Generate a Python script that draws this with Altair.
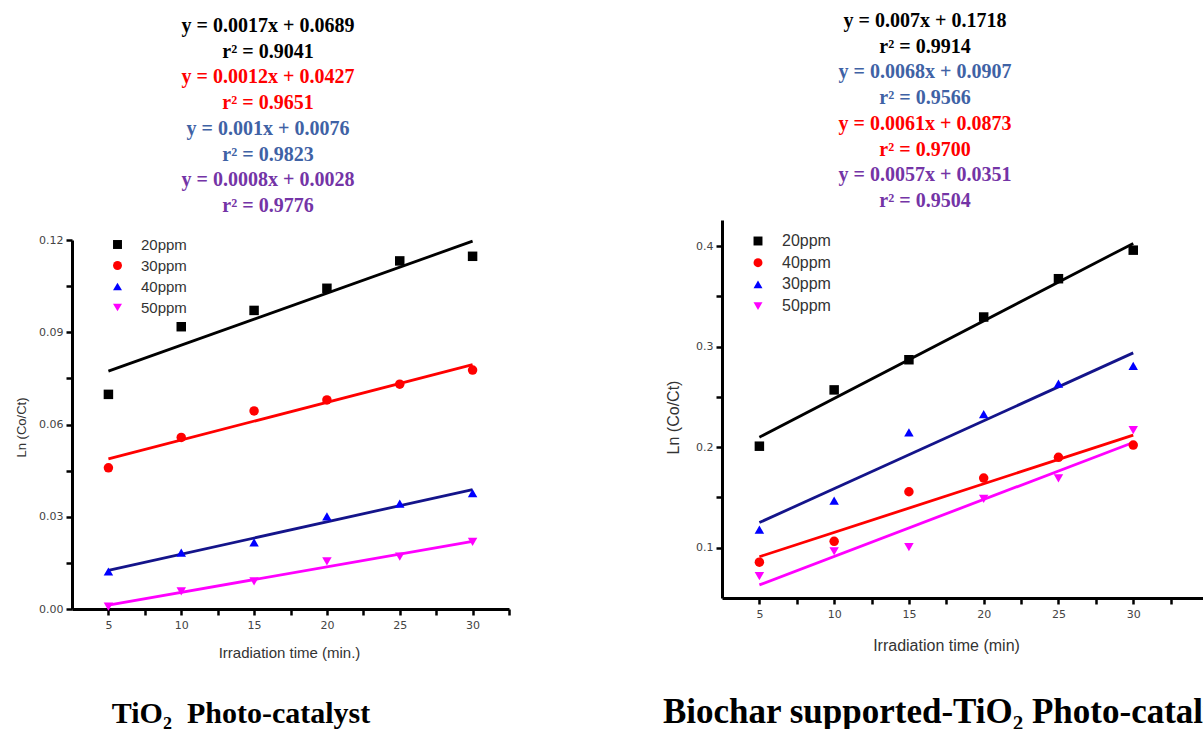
import altair as alt
import pandas as pd

# ---------------- data ----------------
times = [5, 10, 15, 20, 25, 30]

# TiO2 photo-catalyst panel
tio2_series = ["20ppm", "30ppm", "40ppm", "50ppm"]
tio2_20 = [0.0698, 0.0918, 0.0971, 0.1043, 0.1132, 0.1147]
tio2_30 = [0.0459, 0.0558, 0.0644, 0.0680, 0.0731, 0.0777]
tio2_40 = [0.0122, 0.0183, 0.0217, 0.0301, 0.0343, 0.0377]
tio2_50 = [0.0008, 0.0057, 0.0090, 0.0155, 0.0170, 0.0218]

# Biochar supported TiO2 panel (legend order as in the picture)
bc_series = ["20ppm", "40ppm", "30ppm", "50ppm"]
bc_20 = [0.201, 0.257, 0.287, 0.3295, 0.3676, 0.396]
bc_40 = [0.0856, 0.1064, 0.1557, 0.1693, 0.1899, 0.2021]
bc_30 = [0.118, 0.1468, 0.2147, 0.2329, 0.2633, 0.2808]
bc_50 = [0.0717, 0.0965, 0.1005, 0.1485, 0.169, 0.217]

tio2_eq = ["y = 0.0017x + 0.0689", "r² = 0.9041",
           "y = 0.0012x + 0.0427", "r² = 0.9651",
           "y = 0.001x + 0.0076", "r² = 0.9823",
           "y = 0.0008x + 0.0028", "r² = 0.9776"]
bc_eq = ["y = 0.007x + 0.1718", "r² = 0.9914",
         "y = 0.0068x + 0.0907", "r² = 0.9566",
         "y = 0.0061x + 0.0873", "r² = 0.9700",
         "y = 0.0057x + 0.0351", "r² = 0.9504"]

tio2_title = "TiO₂\u00a0 Photo-catalyst"
bc_title = "Biochar supported-TiO₂ Photo-catalyst"

# ---------------- styles ----------------
BLACK, RED, BLUE, MAGENTA, NAVY = "#000000", "#ff0000", "#0000ff", "#ff00ff", "#14148a"
EQ_BLUE, EQ_PURPLE = "#3f62a5", "#7434a6"
tio2_eq_colors = [BLACK, BLACK, RED, RED, EQ_BLUE, EQ_BLUE, EQ_PURPLE, EQ_PURPLE]
bc_eq_colors = [BLACK, BLACK, EQ_BLUE, EQ_BLUE, RED, RED, EQ_PURPLE, EQ_PURPLE]

tio2_point_colors = [BLACK, RED, BLUE, MAGENTA]
tio2_line_colors = [BLACK, RED, NAVY, MAGENTA]
bc_point_colors = [BLACK, RED, BLUE, MAGENTA]
bc_line_colors = [BLACK, RED, NAVY, MAGENTA]
shapes = ["square", "circle", "triangle-up", "triangle-down"]


def frame(series_names, values):
    rows = []
    for name, vals in zip(series_names, values):
        for t, v in zip(times, vals):
            rows.append({"time": t, "value": v, "series": name})
    return pd.DataFrame(rows)


tio2_df = frame(tio2_series, [tio2_20, tio2_30, tio2_40, tio2_50])
bc_df = frame(bc_series, [bc_20, bc_40, bc_30, bc_50])

TICK_FONT = "DejaVu Sans"
LAB_FONT = "Liberation Sans"


def panel(df, order, pcolors, lcolors, xdom, xrange, xvals, ydom, yrange, yvals,
          yfmt, ymod, xoff, xtitle, xtx, xty, ytx, yty, xtsize, ytsize, legend):
    xaxis = alt.Axis(values=xvals, labelExpr="datum.value % 5 == 0 ? datum.label : ''",
                     orient="bottom", offset=xoff, title=xtitle, titleX=xtx, titleY=xty,
                     titleAlign="center", titleBaseline="middle", titleFont=LAB_FONT,
                     titleFontSize=xtsize, titleFontWeight="normal", titleColor="#333333",
                     labelFont=TICK_FONT, labelFontSize=11, labelColor="#444444",
                     labelPadding=4, tickSize=6, tickWidth=2.5, tickColor="black",
                     domainWidth=3, domainColor="black", grid=False, labelFlush=False)
    yaxis = alt.Axis(values=yvals, format=yfmt,
                     labelExpr=ymod,
                     orient="left", offset=-xrange[0], title="Ln (Co/Ct)",
                     titleX=ytx, titleY=yty, titleAngle=270, titleAlign="center",
                     titleBaseline="middle", titleFont=LAB_FONT, titleFontSize=ytsize,
                     titleFontWeight="normal", titleColor="#333333",
                     labelFont=TICK_FONT, labelFontSize=11, labelColor="#444444",
                     labelPadding=3, tickSize=6, tickWidth=2.5, tickColor="black",
                     domainWidth=3, domainColor="black", grid=False, labelFlush=False)
    xs = alt.Scale(domain=xdom, range=xrange, nice=False, zero=False)
    ys = alt.Scale(domain=ydom, range=yrange, nice=False, zero=False)
    base = alt.Chart(df)
    lines = base.mark_line(strokeWidth=2.8).transform_regression(
        "time", "value", groupby=["series"]
    ).encode(
        x=alt.X("time:Q", scale=xs, axis=None),
        y=alt.Y("value:Q", scale=ys, axis=None),
        stroke=alt.Stroke("series:N", scale=alt.Scale(domain=order, range=lcolors), legend=None),
    )
    pts = base.mark_point(filled=True, size=90, opacity=1).encode(
        x=alt.X("time:Q", scale=xs, axis=xaxis),
        y=alt.Y("value:Q", scale=ys, axis=yaxis),
        color=alt.Color("series:N", scale=alt.Scale(domain=order, range=pcolors), legend=legend),
        shape=alt.Shape("series:N", scale=alt.Scale(domain=order, range=shapes), legend=legend),
    )
    return [lines, pts]


leg_left = alt.Legend(title=None, orient="none", legendX=110, legendY=237,
                      labelFont=LAB_FONT, labelFontSize=15, labelColor="#333333",
                      symbolSize=80, labelOffset=16, rowPadding=5)
leg_right = alt.Legend(title=None, orient="none", legendX=750, legendY=233,
                       labelFont=LAB_FONT, labelFontSize=16, labelColor="#333333",
                       symbolSize=80, labelOffset=16, rowPadding=5.7)

left = panel(tio2_df, tio2_series, tio2_point_colors, tio2_line_colors,
             [2.5, 32.5], [72, 509], [5 + 2.5 * i for i in range(12)],
             [0, 0.12], [609, 240], [0.015 * i for i in range(9)], ".2f",
             "(round(datum.value * 1000) % 30 == 0) ? datum.label : ''",
             -120, "Irradiation time (min.)", 289, 43, -51, 427, 15, 13, leg_left)

right = panel(bc_df, bc_series, bc_point_colors, bc_line_colors,
              [2.5, 35], [722, 1208], [5 + 2.5 * i for i in range(12)],
              [0.05, 0.426], [598, 220], [0.1 + 0.05 * i for i in range(7)], ".1f",
              "(round(datum.value * 100) % 10 == 0) ? datum.label : ''",
              -131, "Irradiation time (min)", 946, 47, -49, 417, 16, 16, leg_right)

texts = []
for i, (t, c) in enumerate(zip(tio2_eq, tio2_eq_colors)):
    texts.append(alt.Chart(alt.Data(values=[{}])).mark_text(
        text=t, color=c, font="Liberation Serif", fontWeight="bold", fontSize=20,
        align="center", baseline="alphabetic"
    ).encode(x=alt.value(268), y=alt.value(32 + 25.7 * i)))
for i, (t, c) in enumerate(zip(bc_eq, bc_eq_colors)):
    texts.append(alt.Chart(alt.Data(values=[{}])).mark_text(
        text=t, color=c, font="Liberation Serif", fontWeight="bold", fontSize=20,
        align="center", baseline="alphabetic"
    ).encode(x=alt.value(925), y=alt.value(27 + 25.7 * i)))

texts.append(alt.Chart(alt.Data(values=[{}])).mark_text(
    text=tio2_title, color="black", font="Liberation Serif", fontWeight="bold", fontSize=30,
    align="center", baseline="alphabetic"
).encode(x=alt.value(241), y=alt.value(723)))
texts.append(alt.Chart(alt.Data(values=[{}])).mark_text(
    text=bc_title, color="black", font="Liberation Serif", fontWeight="bold", fontSize=35,
    align="left", baseline="alphabetic"
).encode(x=alt.value(663), y=alt.value(723)))

chart = alt.layer(*left, *right, *texts).resolve_scale(
    x="independent", y="independent", color="independent", shape="independent",
    stroke="independent"
).resolve_axis(x="independent", y="independent").resolve_legend(
    color="independent", shape="independent"
).properties(
    width=1203, height=729, autosize=alt.AutoSizeParams(type="none"), padding=0,
    background="white"
).configure_view(stroke=None)

chart.save("out.html", embed_options={"renderer": "svg", "actions": False})
